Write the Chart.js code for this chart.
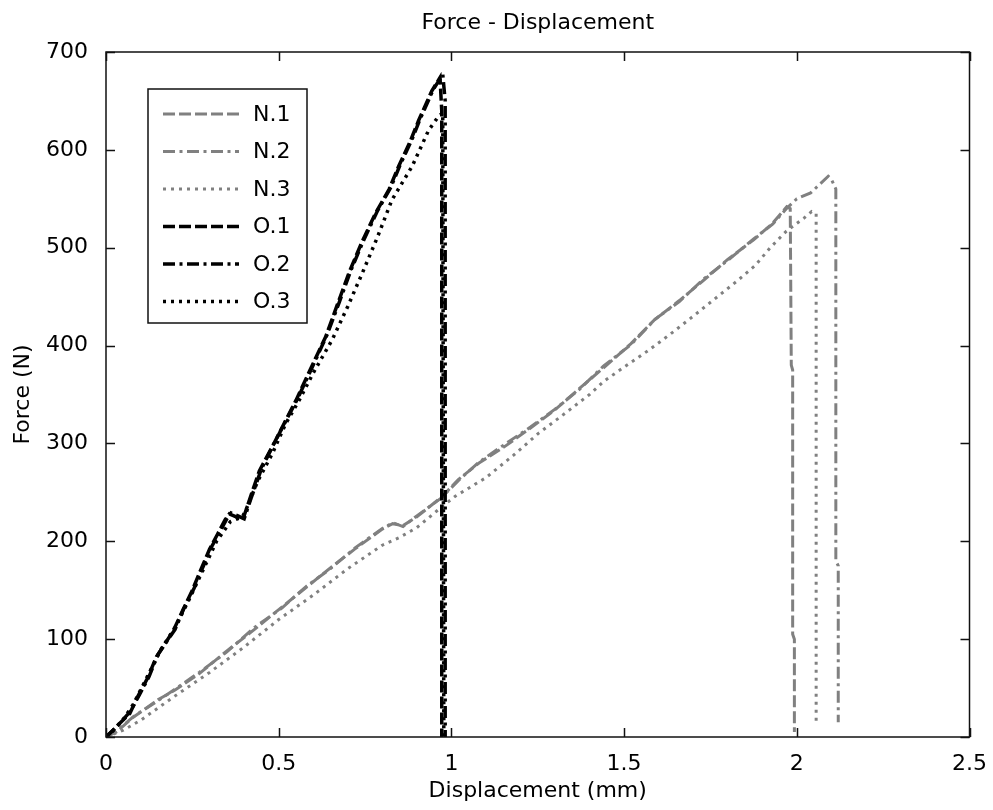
<!DOCTYPE html>
<html>
<head>
<meta charset="utf-8">
<script src="https://cdn.jsdelivr.net/npm/chart.js@4.4.0/dist/chart.umd.min.js"></script>
<style>
  html, body { margin: 0; padding: 0; background: #fff; }
  canvas { display: block; }
</style>
</head>
<body>
<canvas id="grafico" width="993" height="810"></canvas>
<script>
// valores (deslocamento em mm, força em N)
const n1X = [0, 0.03, 0.078, 0.15, 0.2, 0.271, 0.35, 0.43, 0.51, 0.58, 0.654, 0.72, 0.798, 0.83, 0.86, 0.9, 0.971, 1.02, 1.08, 1.155, 1.23, 1.299, 1.37, 1.443, 1.52, 1.587, 1.66, 1.731, 1.8, 1.875, 1.93, 1.971, 1.981, 1.984, 1.988, 1.988, 1.993, 1.993];
const n1Y = [0, 5, 20, 38, 48, 65, 88, 110, 133, 153, 174, 192, 212, 218, 216, 225, 245, 263, 280, 297, 316, 334, 356, 378, 402, 426, 446, 467, 488, 508, 525, 542, 540, 380, 375, 105, 100, 5];

const n2X = [0, 0.03, 0.08, 0.15, 0.2, 0.27, 0.35, 0.43, 0.51, 0.58, 0.65, 0.72, 0.8, 0.83, 0.86, 0.9, 0.97, 1.02, 1.08, 1.15, 1.23, 1.3, 1.37, 1.44, 1.52, 1.59, 1.66, 1.73, 1.8, 1.875, 1.93, 1.97, 2.0, 2.04, 2.07, 2.091, 2.1, 2.113, 2.113, 2.12, 2.12];
const n2Y = [0, 6, 21, 37, 49, 66, 87, 112, 132, 154, 172, 193, 213, 219, 215, 226, 244, 262, 281, 298, 317, 335, 355, 379, 401, 427, 445, 468, 487, 509, 524, 540, 550, 556, 566, 573, 570, 560, 180, 175, 15];

const n3X = [0, 0.05, 0.1, 0.2, 0.3, 0.4, 0.5, 0.6, 0.7, 0.8, 0.85, 0.9, 0.975, 1.011, 1.1, 1.18, 1.251, 1.33, 1.4, 1.443, 1.5, 1.57, 1.635, 1.7, 1.76, 1.827, 1.88, 1.923, 1.97, 2.02, 2.043, 2.056, 2.056];
const n3Y = [0, 7, 17, 42, 66, 92, 120, 145, 172, 196, 204, 214, 236, 246, 265, 288, 310, 331, 350, 364, 378, 395, 412, 430, 447, 466, 482, 500, 517, 530, 537, 535, 15];

const o1X = [0, 0.012, 0.04, 0.069, 0.09, 0.12, 0.146, 0.17, 0.194, 0.223, 0.25, 0.271, 0.3, 0.324, 0.345, 0.357, 0.377, 0.396, 0.415, 0.444, 0.482, 0.521, 0.55, 0.6, 0.636, 0.67, 0.703, 0.74, 0.78, 0.82, 0.847, 0.88, 0.905, 0.943, 0.967, 0.972, 0.972];
const o1Y = [0, 4, 14, 24, 40, 60, 82, 95, 108, 130, 150, 168, 192, 208, 222, 228, 225, 222, 242, 272, 297, 324, 344, 382, 409, 442, 474, 505, 535, 560, 583, 608, 630, 660, 674, 640, 0];

const o2X = [0, 0.015, 0.045, 0.07, 0.095, 0.125, 0.15, 0.175, 0.2, 0.225, 0.255, 0.275, 0.305, 0.33, 0.35, 0.362, 0.382, 0.4, 0.42, 0.45, 0.485, 0.525, 0.555, 0.605, 0.64, 0.675, 0.708, 0.745, 0.785, 0.825, 0.852, 0.885, 0.91, 0.948, 0.975, 0.982, 0.982];
const o2Y = [0, 5, 16, 26, 42, 62, 84, 97, 110, 131, 152, 169, 194, 210, 223, 229, 226, 223, 244, 274, 299, 326, 346, 384, 411, 444, 476, 507, 537, 562, 585, 610, 632, 662, 677, 650, 0];

const o3X = [0, 0.015, 0.05, 0.08, 0.12, 0.16, 0.2, 0.24, 0.28, 0.32, 0.36, 0.395, 0.405, 0.44, 0.482, 0.52, 0.559, 0.6, 0.655, 0.7, 0.742, 0.785, 0.828, 0.886, 0.934, 0.962, 0.975, 0.978];
const o3Y = [0, 4, 18, 34, 62, 90, 112, 140, 170, 200, 220, 225, 232, 262, 290, 320, 344, 372, 406, 440, 474, 510, 549, 583, 620, 634, 638, 0];

const rotulos = ['N.1', 'N.2', 'N.3', 'O.1', 'O.2', 'O.3'];
const xTickLabels = ['0', '0.5', '1', '1.5', '2', '2.5'];
const yTickLabels = ['0', '100', '200', '300', '400', '500', '600', '700'];

const CINZA = '#808080';
const TRACO = [12, 4];
const TRACO_PONTO = [12, 4.5, 3, 4.5];
const PONTILHADO = [3, 5];

function pontos(xs, ys) {
  return xs.map((x, i) => ({ x: x, y: ys[i] }));
}

function serie(label, xs, ys, cor, dash, largura, ordem) {
  return {
    label: label,
    data: pontos(xs, ys),
    borderColor: cor,
    borderWidth: largura,
    borderDash: dash,
    borderCapStyle: 'butt',
    pointRadius: 0,
    tension: 0,
    fill: false,
    order: ordem
  };
}

// moldura da caixa com ticks para dentro nos quatro lados (estilo MATLAB)
const moldura = {
  id: 'moldura',
  afterDatasetsDraw(chart) {
    const { ctx, chartArea: a, scales } = chart;
    const tl = 9;
    ctx.save();
    ctx.strokeStyle = '#111';
    ctx.lineWidth = 1.5;
    ctx.strokeRect(a.left, a.top, a.right - a.left, a.bottom - a.top);
    ctx.beginPath();
    scales.x.ticks.forEach(t => {
      const px = Math.round(scales.x.getPixelForValue(t.value)) + 0.5;
      ctx.moveTo(px, a.bottom); ctx.lineTo(px, a.bottom - tl);
      ctx.moveTo(px, a.top); ctx.lineTo(px, a.top + tl);
    });
    scales.y.ticks.forEach(t => {
      const py = Math.round(scales.y.getPixelForValue(t.value)) + 0.5;
      ctx.moveTo(a.left, py); ctx.lineTo(a.left + tl, py);
      ctx.moveTo(a.right, py); ctx.lineTo(a.right - tl, py);
    });
    ctx.stroke();
    ctx.restore();
  }
};

// legenda dentro da área do gráfico, canto superior esquerdo
const legendaCaixa = {
  id: 'legendaCaixa',
  afterDraw(chart) {
    const { ctx, chartArea: a } = chart;
    const bx = a.left + 42, by = a.top + 37, bw = 159, bh = 234;
    ctx.save();
    ctx.fillStyle = '#fff';
    ctx.fillRect(bx, by, bw, bh);
    ctx.strokeStyle = '#111';
    ctx.lineWidth = 1.5;
    ctx.strokeRect(bx, by, bw, bh);
    ctx.font = '22px "DejaVu Sans"';
    ctx.textBaseline = 'middle';
    ctx.textAlign = 'left';
    chart.data.datasets.forEach((ds, i) => {
      const y = by + 25 + i * 37.5;
      ctx.beginPath();
      ctx.setLineDash(ds.borderDash);
      ctx.strokeStyle = ds.borderColor;
      ctx.lineWidth = ds.borderWidth;
      ctx.moveTo(bx + 15, y);
      ctx.lineTo(bx + 91, y);
      ctx.stroke();
      ctx.setLineDash([]);
      ctx.fillStyle = '#000';
      ctx.fillText(ds.label, bx + 105, y + 1);
    });
    ctx.restore();
  }
};

Chart.defaults.font.family = '"DejaVu Sans"';
Chart.defaults.font.size = 22;
Chart.defaults.color = '#000';

new Chart(document.getElementById('grafico'), {
  type: 'line',
  data: {
    datasets: [
      serie(rotulos[0], n1X, n1Y, CINZA, TRACO, 3, 2),
      serie(rotulos[1], n2X, n2Y, CINZA, TRACO_PONTO, 3, 2),
      serie(rotulos[2], n3X, n3Y, CINZA, PONTILHADO, 3, 2),
      serie(rotulos[3], o1X, o1Y, '#000', TRACO, 3.5, 1),
      serie(rotulos[4], o2X, o2Y, '#000', TRACO_PONTO, 3.5, 1),
      serie(rotulos[5], o3X, o3Y, '#000', PONTILHADO, 3.5, 1)
    ]
  },
  options: {
    responsive: false,
    animation: false,
    events: [],
    layout: { padding: { left: 0, right: 19, top: 0, bottom: 0 } },
    plugins: {
      legend: { display: false },
      tooltip: { enabled: false },
      title: {
        display: true,
        text: 'Force - Displacement',
        fullSize: false,
        font: { size: 22, weight: 'normal' },
        color: '#000',
        padding: { top: 10, bottom: 15.6 }
      }
    },
    scales: {
      x: {
        type: 'linear',
        min: 0,
        max: 2.5,
        grid: { display: false },
        border: { display: false },
        ticks: {
          stepSize: 0.5,
          autoSkip: false,
          maxRotation: 0,
          padding: 6,
          callback: (v, i) => xTickLabels[i]
        },
        title: {
          display: true,
          text: 'Displacement (mm)',
          padding: { top: 0, bottom: 6 }
        },
        afterFit: s => { s.height = 73; }
      },
      y: {
        type: 'linear',
        min: 0,
        max: 700,
        grid: { display: false },
        border: { display: false },
        ticks: {
          stepSize: 100,
          autoSkip: false,
          padding: 10,
          callback: (v, i) => yTickLabels[i]
        },
        title: {
          display: true,
          text: 'Force (N)',
          padding: { top: 10, bottom: 0 }
        },
        afterFit: s => { s.width = 106; }
      }
    }
  },
  plugins: [moldura, legendaCaixa]
});
</script>
</body>
</html>
